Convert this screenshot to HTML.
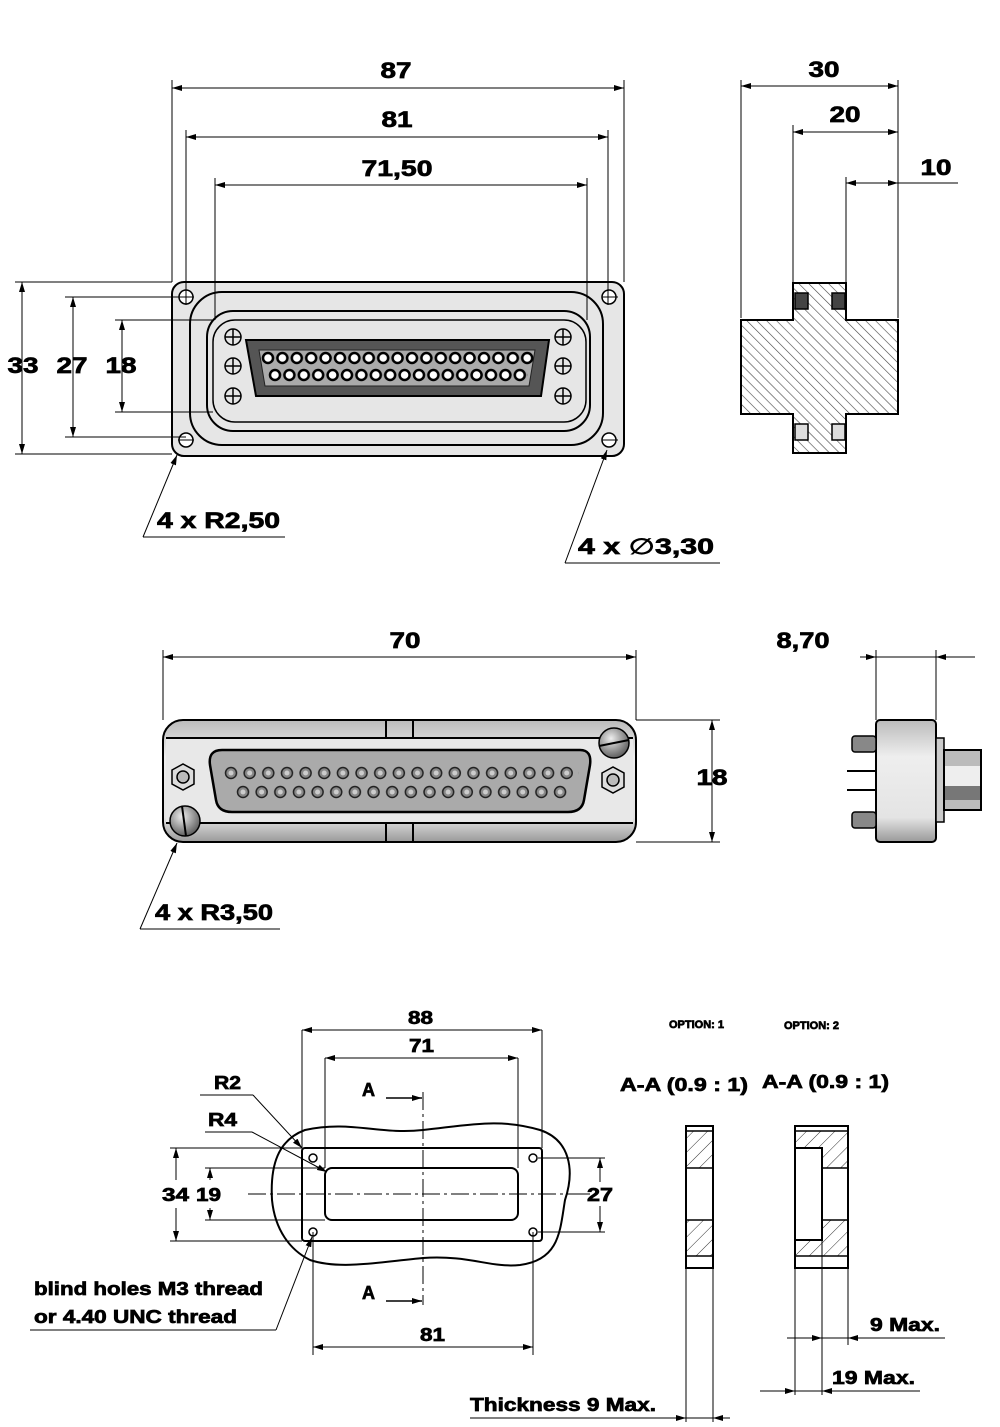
<!DOCTYPE html>
<html><head><meta charset="utf-8"><style>
html,body{margin:0;padding:0;background:#fff}
svg{display:block}
text{font-family:"Liberation Sans",sans-serif;font-weight:bold;fill:#000;stroke:#000;stroke-width:0.7}
</style></head><body>
<svg width="1000" height="1427" viewBox="0 0 1000 1427" xmlns="http://www.w3.org/2000/svg">
<defs>
<marker id="ar" viewBox="0 0 10 6" refX="10" refY="3" markerWidth="10" markerHeight="6" orient="auto-start-reverse" markerUnits="userSpaceOnUse"><path d="M0,0 L10,3 L0,6z" fill="#000"/></marker>
<pattern id="hatch" width="7" height="7" patternUnits="userSpaceOnUse" patternTransform="rotate(-45)"><rect width="7" height="7" fill="#fff"/><line x1="0" y1="0" x2="0" y2="7" stroke="#444" stroke-width="1.2"/></pattern>
<pattern id="hatch2" width="10" height="10" patternUnits="userSpaceOnUse" patternTransform="rotate(45)"><rect width="10" height="10" fill="#fff"/><line x1="0" y1="0" x2="0" y2="10" stroke="#333" stroke-width="1"/></pattern>
<pattern id="p1" x="261" y="351" width="14.4" height="14" patternUnits="userSpaceOnUse"><circle cx="7" cy="7" r="5" fill="#fff" stroke="#000" stroke-width="2.5"/></pattern>
<pattern id="p2" x="268" y="368" width="14.4" height="14" patternUnits="userSpaceOnUse"><circle cx="7" cy="7" r="5" fill="#fff" stroke="#000" stroke-width="2.5"/></pattern>
<pattern id="m1" x="224" y="766" width="18.65" height="14" patternUnits="userSpaceOnUse"><circle cx="7" cy="7" r="5.5" fill="#888" stroke="#222" stroke-width="1.5"/><circle cx="7" cy="7" r="2.5" fill="#ccc"/></pattern>
<pattern id="m2" x="236" y="785" width="18.65" height="14" patternUnits="userSpaceOnUse"><circle cx="7" cy="7" r="5.5" fill="#888" stroke="#222" stroke-width="1.5"/><circle cx="7" cy="7" r="2.5" fill="#ccc"/></pattern>
<linearGradient id="gv" x1="0" y1="0" x2="0" y2="1"><stop offset="0" stop-color="#bbb"/><stop offset="0.3" stop-color="#eee"/><stop offset="0.8" stop-color="#e4e4e4"/><stop offset="1" stop-color="#999"/></linearGradient>
<radialGradient id="sc" cx="0.4" cy="0.35" r="0.7"><stop offset="0" stop-color="#eee"/><stop offset="1" stop-color="#555"/></radialGradient>
</defs>
<g stroke="#000" stroke-width="1" fill="none">
<rect x="172" y="282" width="452" height="174" rx="12" fill="#e6e6e6" stroke-width="2"/>
<rect x="190" y="292" width="413" height="153" rx="32" stroke-width="2"/>
<rect x="207" y="311" width="383" height="120" rx="26" stroke-width="2"/>
<rect x="213" y="320" width="373" height="102" rx="22" stroke-width="1.5"/>
<g fill="#fff" stroke-width="1.5">
<circle cx="186" cy="297" r="7"/><circle cx="609" cy="297" r="7"/><circle cx="186" cy="440" r="7"/><circle cx="609" cy="440" r="7"/>
</g>
<g stroke-width="1.5">
<circle cx="233" cy="337" r="8"/><circle cx="233" cy="366" r="8"/><circle cx="233" cy="396" r="8"/>
<circle cx="563" cy="337" r="8"/><circle cx="563" cy="366" r="8"/><circle cx="563" cy="396" r="8"/>
<path d="M225,337h16M233,329v16M225,366h16M233,358v16M225,396h16M233,388v16M555,337h16M563,329v16M555,366h16M563,358v16M555,396h16M563,388v16"/>
</g>
<path d="M246,340 L549,340 L541,396 L256,396 Z" fill="#555" stroke-width="2"/>
<path d="M259,350 L535,350 L529,386 L265,386 Z" fill="#aaa" stroke="#222"/>
<rect x="261" y="351" width="274" height="14" fill="url(#p1)" stroke="none"/>
<rect x="268" y="368" width="260" height="14" fill="url(#p2)" stroke="none"/>
<path d="M172,80V282M624,80V282M186,130V305M608,130V305M215,178V320M587,178V320"/>
<path d="M15,282H172M65,297H186M115,320H213M115,412H213M65,437H186M15,454H172"/>
<path d="M178,297H194M602,297H618M178,440H194M602,440H618"/>
<line x1="172" y1="88" x2="624" y2="88" marker-start="url(#ar)" marker-end="url(#ar)"/>
<line x1="186" y1="137" x2="608" y2="137" marker-start="url(#ar)" marker-end="url(#ar)"/>
<line x1="215" y1="185" x2="587" y2="185" marker-start="url(#ar)" marker-end="url(#ar)"/>
<line x1="22" y1="282" x2="22" y2="454" marker-start="url(#ar)" marker-end="url(#ar)"/>
<line x1="73" y1="297" x2="73" y2="437" marker-start="url(#ar)" marker-end="url(#ar)"/>
<line x1="122" y1="320" x2="122" y2="412" marker-start="url(#ar)" marker-end="url(#ar)"/>
<line x1="143" y1="537" x2="177" y2="455" marker-end="url(#ar)"/><path d="M143,537H285"/>
<line x1="565" y1="563" x2="607" y2="450" marker-end="url(#ar)"/><path d="M565,563H720"/>
<path d="M793,283H846V320H898V414H846V453H793V414H741V320H793Z" fill="url(#hatch)" stroke-width="2"/>
<rect x="795" y="293" width="13" height="16" fill="#444" stroke-width="1.5"/>
<rect x="832" y="293" width="13" height="16" fill="#444" stroke-width="1.5"/>
<rect x="795" y="424" width="13" height="16" fill="#ddd" stroke-width="1.5"/>
<rect x="832" y="424" width="13" height="16" fill="#ddd" stroke-width="1.5"/>
<path d="M741,80V318M898,80V318M793,125V283M846,177V283"/>
<line x1="741" y1="86" x2="898" y2="86" marker-start="url(#ar)" marker-end="url(#ar)"/>
<line x1="793" y1="132" x2="898" y2="132" marker-start="url(#ar)" marker-end="url(#ar)"/>
<line x1="846" y1="183" x2="898" y2="183" marker-start="url(#ar)" marker-end="url(#ar)"/>
<path d="M898,183H958"/>
<rect x="163" y="720" width="473" height="122" rx="20" fill="url(#gv)" stroke-width="2"/>
<rect x="166" y="738" width="467" height="85" fill="#e8e8e8" stroke="none"/>
<path d="M166,738H633M166,823H633" stroke-width="2"/>
<path d="M386,720V738M413,720V738M386,823V842M413,823V842" stroke-width="2"/>
<path d="M222,750 H580 Q592,750 590,765 L584,800 Q582,812 568,812 H232 Q218,812 216,800 L210,765 Q208,750 222,750Z" fill="#aaa" stroke-width="2.5"/>
<rect x="224" y="766" width="355" height="14" fill="url(#m1)" stroke="none"/>
<rect x="236" y="785" width="336" height="14" fill="url(#m2)" stroke="none"/>
<g stroke-width="1.5" fill="#ddd">
<path d="M172,770L183,764L194,770L194,784L183,790L172,784Z"/><circle cx="183" cy="777" r="6" fill="#bbb"/>
<path d="M602,773L613,767L624,773L624,787L613,793L602,787Z"/><circle cx="613" cy="780" r="6" fill="#bbb"/>
<circle cx="185" cy="821" r="15" fill="url(#sc)"/><path d="M182,806 L186,836" stroke-width="2"/>
<circle cx="614" cy="743" r="15" fill="url(#sc)"/><path d="M599,746 L629,740" stroke-width="2"/>
</g>
<path d="M163,650V720M636,650V720M636,720H720M636,842H720"/>
<line x1="163" y1="657" x2="636" y2="657" marker-start="url(#ar)" marker-end="url(#ar)"/>
<line x1="712" y1="720" x2="712" y2="842" marker-start="url(#ar)" marker-end="url(#ar)"/>
<line x1="140" y1="929" x2="177" y2="843" marker-end="url(#ar)"/><path d="M140,929H280"/>
<rect x="876" y="720" width="60" height="122" rx="4" fill="url(#gv)" stroke-width="2"/>
<rect x="936" y="738" width="8" height="84" fill="#ccc" stroke-width="1.5"/>
<rect x="944" y="750" width="37" height="60" fill="#bbb" stroke-width="2"/>
<rect x="944" y="766" width="37" height="20" fill="#eee" stroke="none"/>
<rect x="944" y="786" width="37" height="14" fill="#777" stroke="none"/>
<rect x="944" y="750" width="37" height="60" stroke-width="2"/>
<rect x="852" y="736" width="24" height="16" rx="3" fill="#888" stroke-width="1.5"/>
<rect x="852" y="812" width="24" height="16" rx="3" fill="#888" stroke-width="1.5"/>
<path d="M847,771H876M847,790H876" stroke-width="2"/>
<path d="M876,650V720M936,650V720"/>
<line x1="860" y1="657" x2="876" y2="657" marker-end="url(#ar)"/>
<line x1="975" y1="657" x2="936" y2="657" marker-end="url(#ar)"/>
<path d="M876,657H936"/>
<path d="M302,1030V1148M542,1030V1148M325,1058V1168M518,1058V1168"/>
<line x1="302" y1="1030" x2="542" y2="1030" marker-start="url(#ar)" marker-end="url(#ar)"/>
<line x1="325" y1="1058" x2="518" y2="1058" marker-start="url(#ar)" marker-end="url(#ar)"/>
<path d="M305,1130 C350,1120 380,1135 423,1130 C470,1125 500,1118 540,1130 C570,1140 575,1170 565,1200 C560,1230 560,1260 520,1265 C490,1268 470,1255 423,1258 C380,1262 340,1270 310,1260 C290,1250 275,1230 272,1200 C270,1165 278,1140 305,1130Z" stroke-width="2"/>
<rect x="302" y="1148" width="240" height="93" rx="3" stroke-width="2"/>
<rect x="325" y="1168" width="193" height="52" rx="7" stroke-width="2"/>
<g stroke-width="1.5"><circle cx="313" cy="1158" r="4"/><circle cx="533" cy="1158" r="4"/><circle cx="313" cy="1232" r="4"/><circle cx="533" cy="1232" r="4"/></g>
<path d="M248,1194H580" stroke-dasharray="18,4,3,4"/>
<path d="M423,1092V1305" stroke-dasharray="18,4,3,4"/>
<path d="M170,1148H302M205,1168H325M205,1220H325M170,1241H302M538,1158H605M538,1232H605"/>
<line x1="176" y1="1148" x2="176" y2="1180" marker-start="url(#ar)"/><line x1="176" y1="1208" x2="176" y2="1241" marker-end="url(#ar)"/>
<line x1="210" y1="1168" x2="210" y2="1180" marker-start="url(#ar)"/><line x1="210" y1="1208" x2="210" y2="1220" marker-end="url(#ar)"/>
<line x1="600" y1="1158" x2="600" y2="1182" marker-start="url(#ar)"/><line x1="600" y1="1206" x2="600" y2="1232" marker-end="url(#ar)"/>
<path d="M580,1194H590"/>
<line x1="386" y1="1098" x2="422" y2="1098" marker-end="url(#ar)" stroke-width="1.5"/>
<line x1="386" y1="1301" x2="422" y2="1301" marker-end="url(#ar)" stroke-width="1.5"/>
<path d="M200,1095H253"/><line x1="253" y1="1095" x2="302" y2="1148" marker-end="url(#ar)"/>
<path d="M205,1132H252"/><line x1="252" y1="1132" x2="327" y2="1172" marker-end="url(#ar)"/>
<path d="M313,1232V1355M533,1232V1355"/>
<line x1="313" y1="1347" x2="533" y2="1347" marker-start="url(#ar)" marker-end="url(#ar)"/>
<path d="M30,1330H276"/><line x1="276" y1="1330" x2="312" y2="1237" marker-end="url(#ar)"/>
<rect x="686" y="1131" width="27" height="37" fill="url(#hatch2)" stroke="none"/>
<rect x="686" y="1220" width="27" height="36" fill="url(#hatch2)" stroke="none"/>
<rect x="686" y="1126" width="27" height="142" stroke-width="2"/>
<path d="M686,1131H713M686,1168H713M686,1220H713M686,1256H713" stroke-width="1.5"/>
<path d="M686,1268V1422M713,1268V1422"/>
<line x1="670" y1="1418" x2="686" y2="1418" marker-end="url(#ar)"/>
<line x1="730" y1="1418" x2="713" y2="1418" marker-end="url(#ar)"/>
<path d="M470,1418H670M686,1418H713"/>
<rect x="795" y="1131" width="53" height="125" fill="url(#hatch2)" stroke="none"/>
<rect x="822" y="1168" width="26" height="52" fill="#fff" stroke="none"/>
<rect x="795" y="1148" width="27" height="92" fill="#fff" stroke-width="2"/>
<rect x="795" y="1126" width="53" height="142" stroke-width="2"/>
<path d="M795,1131H848M822,1168H848M822,1220H848M795,1256H848" stroke-width="1.5"/>
<path d="M795,1268V1395M822,1240V1395M848,1268V1345"/>
<line x1="787" y1="1338" x2="822" y2="1338" marker-end="url(#ar)"/>
<line x1="870" y1="1338" x2="848" y2="1338" marker-end="url(#ar)"/>
<path d="M822,1338H945"/>
<line x1="760" y1="1391" x2="795" y2="1391" marker-end="url(#ar)"/>
<line x1="840" y1="1391" x2="822" y2="1391" marker-end="url(#ar)"/>
<path d="M795,1391H920"/>
</g>
<g font-size="22" text-anchor="middle">
<text x="396" y="78" textLength="31" lengthAdjust="spacingAndGlyphs">87</text><text x="397" y="127" textLength="31" lengthAdjust="spacingAndGlyphs">81</text><text x="397" y="176" textLength="71" lengthAdjust="spacingAndGlyphs">71,50</text>
<text x="23" y="373" textLength="31" lengthAdjust="spacingAndGlyphs">33</text><text x="72" y="373" textLength="31" lengthAdjust="spacingAndGlyphs">27</text><text x="121" y="373" textLength="31" lengthAdjust="spacingAndGlyphs">18</text>
<text x="824" y="77" textLength="31" lengthAdjust="spacingAndGlyphs">30</text><text x="845" y="122" textLength="31" lengthAdjust="spacingAndGlyphs">20</text><text x="936" y="175" textLength="31" lengthAdjust="spacingAndGlyphs">10</text>
<text x="405" y="648" textLength="31" lengthAdjust="spacingAndGlyphs">70</text><text x="803" y="648" textLength="53" lengthAdjust="spacingAndGlyphs">8,70</text><text x="712" y="785" textLength="31" lengthAdjust="spacingAndGlyphs">18</text>
</g>
<g font-size="22">
<text x="157" y="528" textLength="123" lengthAdjust="spacingAndGlyphs">4 x R2,50</text>
<text x="578" y="554" textLength="136" lengthAdjust="spacingAndGlyphs">4 x <tspan font-weight="normal">∅</tspan>3,30</text>
<text x="155" y="920" textLength="118" lengthAdjust="spacingAndGlyphs">4 x R3,50</text>
</g>
<g font-size="18">
<text x="408" y="1024" textLength="25" lengthAdjust="spacingAndGlyphs">88</text><text x="409" y="1052" textLength="25" lengthAdjust="spacingAndGlyphs">71</text>
<text x="362" y="1096">A</text><text x="362" y="1299">A</text>
<text x="214" y="1089" textLength="27" lengthAdjust="spacingAndGlyphs">R2</text><text x="208" y="1126" textLength="29" lengthAdjust="spacingAndGlyphs">R4</text>
<text x="162" y="1201" textLength="27" lengthAdjust="spacingAndGlyphs">34</text><text x="196" y="1201" textLength="25" lengthAdjust="spacingAndGlyphs">19</text><text x="587" y="1201" textLength="26" lengthAdjust="spacingAndGlyphs">27</text>
<text x="420" y="1341" textLength="25" lengthAdjust="spacingAndGlyphs">81</text>
<text x="34" y="1295" textLength="229" lengthAdjust="spacingAndGlyphs">blind holes M3 thread</text><text x="34" y="1323" textLength="203" lengthAdjust="spacingAndGlyphs">or 4.40 UNC thread</text>
<text x="620" y="1091" textLength="128" lengthAdjust="spacingAndGlyphs">A-A (0.9 : 1)</text><text x="762" y="1088" textLength="127" lengthAdjust="spacingAndGlyphs">A-A (0.9 : 1)</text>
<text x="870" y="1331" textLength="70" lengthAdjust="spacingAndGlyphs">9 Max.</text><text x="832" y="1384" textLength="83" lengthAdjust="spacingAndGlyphs">19 Max.</text>
<text x="470" y="1411" textLength="186" lengthAdjust="spacingAndGlyphs">Thickness 9 Max.</text>
</g>
<g font-size="11"><text x="669" y="1028" stroke-width="0.3">OPTION: 1</text><text x="784" y="1029" stroke-width="0.3">OPTION: 2</text></g>
</svg>
</body></html>
